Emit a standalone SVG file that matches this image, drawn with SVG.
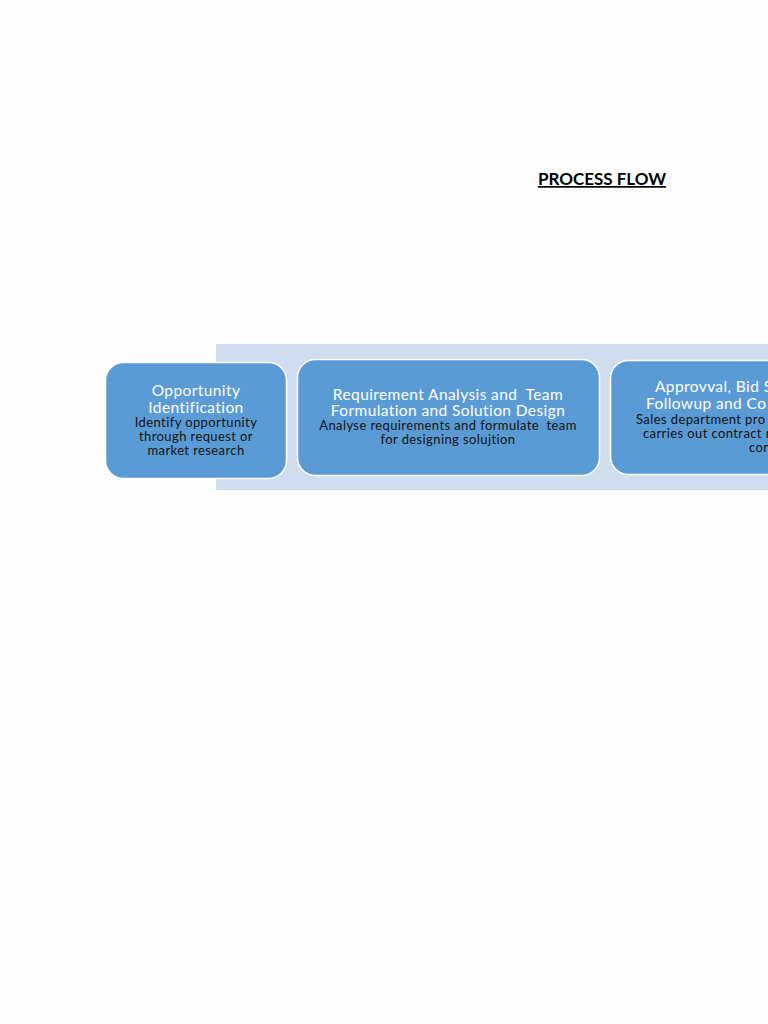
<svg xmlns="http://www.w3.org/2000/svg" width="768" height="1024" viewBox="0 0 768 1024">
<style>
.box{fill:#5B9BD5;stroke:#FFFFFF;stroke-width:1.5}
.hd{font-family:Lato,"Open Sans",sans-serif;font-size:15.5px;letter-spacing:0.4px;fill:#FFFFFF;text-anchor:middle}
.bd{font-family:Lato,"Open Sans",sans-serif;font-size:13px;letter-spacing:0.4px;fill:#111111;text-anchor:middle}
.hs{font-family:Lato,"Open Sans",sans-serif;font-size:15.5px;letter-spacing:0.4px;fill:#FFFFFF}
.bs{font-family:Lato,"Open Sans",sans-serif;font-size:13px;letter-spacing:0.4px;fill:#111111}
</style>
<rect width="768" height="1024" fill="#FDFDFD"/>
<g id="title">
<text x="602" y="185" font-family="Lato,'Open Sans',sans-serif" font-size="17" font-weight="bold" text-anchor="middle" fill="#000" text-decoration="underline">PROCESS FLOW</text>
</g>
<g id="band"><rect x="216" y="344" width="560" height="146" fill="#D0DDEE"/></g>
<g id="node1">
<rect class="box" x="105.5" y="362.5" width="181" height="116" rx="18"/>
<text class="hd" x="196" y="396">Opportunity</text>
<text class="hd" x="196" y="413">Identification</text>
<text class="bd" x="196" y="427">Identify opportunity</text>
<text class="bd" x="196" y="441">through request or</text>
<text class="bd" x="196" y="455">market research</text>
</g>
<g id="node2">
<rect class="box" x="297.5" y="359.5" width="302" height="116" rx="18"/>
<text class="hd" x="448" y="400" xml:space="preserve">Requirement Analysis and  Team</text>
<text class="hd" x="448" y="416">Formulation and Solution Design</text>
<text class="bd" x="448" y="430" xml:space="preserve">Analyse requirements and formulate  team</text>
<text class="bd" x="448" y="444">for designing solujtion</text>
</g>
<g id="node3">
<rect class="box" x="610.5" y="360.5" width="200" height="114" rx="18"/>
<text class="hs" x="655" y="392">Approvval, Bid S</text>
<text class="hs" x="646" y="409">Followup and Co</text>
<text class="bs" x="636" y="424">Sales department pro</text>
<text class="bs" x="643" y="438">carries out contract r</text>
<text class="bs" x="749" y="452">con</text>
</g>
<g id="connectors"></g>
</svg>
